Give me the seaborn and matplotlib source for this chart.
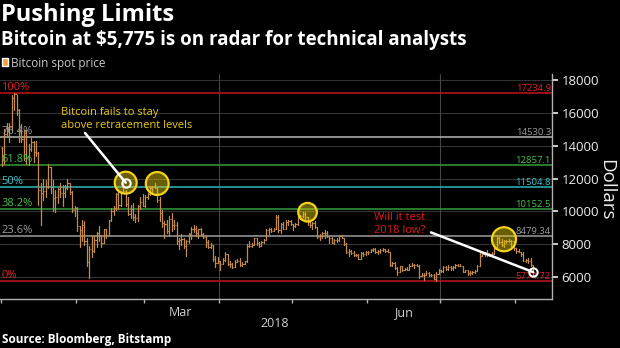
import matplotlib
matplotlib.use("Agg")
import numpy as np
import pandas as pd
import matplotlib.pyplot as plt
import matplotlib.dates as mdates
import matplotlib.transforms as mtransforms
from matplotlib.patches import Patch
import seaborn as sns

# Daily Bitcoin spot price (USD), 1 Jan - 8 Aug 2018
first_open = 13880
high = [
    # Jan
    13900, 15000, 15400, 15400, 17100, 17234.9, 17100, 16250, 15300, 14950, 14950, 14100, 14500, 14300, 14300, 13600,
    11700, 12000, 11900, 12900, 12700, 11900, 11300, 11450, 11700, 11600, 11600, 12000, 11750, 11250, 10350,
    # Feb
    10250, 9100, 9450, 9400, 8350, 7900, 8550, 8500, 8750, 9100, 8550, 8950, 8950, 9500, 10200, 10300, 11100, 11250,
    11250, 11750, 11300, 10900, 10400, 10500, 9850, 10400, 10850, 11050,
    # Mar
    11000, 11150, 11550, 11550, 11700, 11450, 10900, 10100, 9400, 9500, 9700, 9900, 9450, 9350, 8400, 8600, 8350,
    8250, 8700, 9050, 9150, 9100, 8950, 9000, 8700, 8500, 8250, 8100, 7950, 7250, 7200,
    # Apr
    7000, 7150, 7500, 7400, 6950, 6850, 7050, 7100, 7150, 6900, 6970, 8000, 8200, 8100, 8400, 8400, 8150, 8200, 8300,
    8900, 9000, 9000, 9000, 9750, 9750, 9300, 9350, 9450, 9500, 9450,
    # May
    9250, 9270, 9800, 9750, 9950, 9950, 9650, 9450, 9350, 9400, 9050, 8650, 8750, 8850, 8800, 8500, 8450, 8300, 8350,
    8550, 8550, 8400, 8050, 7700, 7650, 7600, 7400, 7400, 7550, 7550, 7600,
    # Jun
    7600, 7700, 7750, 7750, 7650, 7700, 7750, 7700, 7700, 7550, 6900, 6900, 6600, 6700, 6650, 6550, 6600, 6800, 6850,
    6800, 6800, 6750, 6250, 6250, 6350, 6300, 6200, 6200, 6300, 6500,
    # Jul
    6450, 6650, 6650, 6750, 6700, 6650, 6800, 6800, 6800, 6700, 6450, 6400, 6350, 6350, 6400, 6750, 7450, 7550, 7550,
    7650, 7450, 7550, 7800, 8450, 8450, 8300, 8250, 8250, 8300, 8250, 8200,
    # Aug
    7750, 7700, 7550, 7500, 7100, 7150, 7150, 6750,
]
low = [
    # Jan
    12750, 12900, 14600, 14200, 14900, 16200, 15900, 14200, 14200, 13150, 12900, 12800, 13700, 13000, 13400, 10400,
    9200, 10700, 10900, 11400, 11100, 10000, 9950, 10500, 10900, 10350, 10900, 11350, 11050, 9950, 9700,
    # Feb
    8800, 7800, 8200, 7950, 6650, 5950, 7200, 7550, 7800, 8200, 7850, 8100, 8400, 8550, 9400, 9750, 10100, 10150,
    10350, 11100, 10300, 9800, 9600, 9450, 9350, 9400, 10150, 10300,
    # Mar
    10250, 10750, 11000, 11050, 11400, 10600, 9400, 9050, 8350, 8700, 8500, 8800, 8900, 8000, 7700, 7950, 7750, 7300,
    8100, 8300, 8750, 8500, 8350, 8550, 8400, 7850, 7750, 7750, 6950, 6600, 6850,
    # Apr
    6450, 6800, 7000, 6750, 6600, 6550, 6600, 6900, 6650, 6700, 6800, 6900, 7800, 7850, 7950, 7950, 7850, 7900, 8100,
    8250, 8600, 8750, 8800, 8950, 8750, 8700, 8950, 8950, 9150, 9200,
    # May
    8850, 9050, 9200, 9550, 9650, 9500, 9200, 9050, 8950, 9000, 8400, 8250, 8350, 8350, 8450, 8100, 8050, 8000, 8150,
    8200, 8350, 7950, 7450, 7300, 7400, 7300, 7250, 7100, 7100, 7300, 7350,
    # Jun
    7400, 7500, 7600, 7450, 7400, 7450, 7600, 7550, 7500, 6650, 6650, 6500, 6150, 6300, 6350, 6400, 6450, 6400, 6650,
    6550, 6650, 5950, 6050, 5800, 6100, 6050, 6050, 5850, 5780, 6200,
    # Jul
    6300, 6300, 6450, 6450, 6450, 6450, 6550, 6650, 6650, 6300, 6300, 6100, 6150, 6200, 6250, 6350, 6650, 7250, 7300,
    7300, 7250, 7350, 7400, 7700, 8050, 7900, 7850, 8100, 8150, 7900, 7650,
    # Aug
    7450, 7500, 7300, 6950, 6900, 6850, 6700, 6150,
]
close = [
    # Jan
    13412, 14740, 15134, 15155, 16930, 17172, 16180, 14970, 14400, 14900, 13300, 13800, 14200, 13600, 13550, 11300,
    11100, 11250, 11500, 12700, 11500, 10800, 10850, 11350, 11150, 11100, 11400, 11700, 11200, 10100, 10200,
    # Feb
    9100, 8850, 9200, 8200, 6900, 7700, 7600, 8250, 8700, 8550, 8100, 8900, 8550, 9450, 10050, 10200, 11050, 10400,
    11150, 11250, 10450, 9850, 10150, 9650, 9600, 10300, 10600, 10300,
    # Mar
    10900, 11050, 11450, 11500, 11450, 10700, 9900, 9300, 9250, 8800, 9550, 9150, 9150, 8200, 8250, 8300, 7900, 8200,
    8600, 8900, 8900, 8700, 8900, 8600, 8450, 8150, 7800, 7950, 7100, 6850, 6950,
    # Apr
    6800, 7050, 7400, 6800, 6800, 6600, 6900, 7000, 6750, 6800, 6950, 7900, 7900, 7950, 8350, 8050, 7900, 8150, 8250,
    8850, 8900, 8800, 8950, 9650, 8850, 9250, 8950, 9350, 9400, 9250,
    # May
    9100, 9250, 9750, 9700, 9850, 9650, 9350, 9200, 9300, 9050, 8450, 8500, 8700, 8700, 8500, 8350, 8100, 8250, 8250,
    8500, 8400, 8000, 7550, 7600, 7450, 7350, 7350, 7100, 7450, 7400, 7500,
    # Jun
    7550, 7650, 7700, 7500, 7600, 7650, 7700, 7600, 7500, 6750, 6850, 6550, 6300, 6650, 6400, 6500, 6450, 6700, 6750,
    6750, 6700, 6050, 6150, 6150, 6250, 6100, 6150, 5900, 6200, 6400,
    # Jul
    6350, 6600, 6500, 6600, 6550, 6600, 6750, 6700, 6650, 6300, 6400, 6250, 6250, 6300, 6350, 6700, 7300, 7400, 7450,
    7350, 7400, 7400, 7700, 8400, 8150, 7950, 8200, 8200, 8200, 8200, 7750,
    # Aug
    7600, 7550, 7400, 7000, 7050, 6950, 6750, 6300,
]

# Fibonacci retracement levels between the 2018 high and the latest price
fib_pcts = ["100%", "76.4%", "61.8%", "50%", "38.2%", "23.6%", "0%"]
fib_values = [17234.9, 14530.3, 12857.1, 11504.8, 10152.5, 8479.34, 5774.72]
fib_line_colors = ["#b3121c", "#a9a9a9", "#2f8f36", "#2aa7b0", "#2f8f36", "#8f8f8f", "#b3121c"]
fib_text_colors = ["#e0202a", "#9a9a9a", "#45c04a", "#3cc6d2", "#45c04a", "#9a9a9a", "#e0202a"]

y_ticks = [6000, 8000, 10000, 12000, 14000, 16000, 18000]
month_label_dates = ["2018-03-16", "2018-06-16"]
month_labels = ["Mar", "Jun"]
quarter_lines = ["2018-04-01", "2018-07-01"]
highlight_dates = ["2018-02-21", "2018-03-06", "2018-05-07", "2018-07-27"]
highlight_sizes = [250, 270, 180, 300]

BAR = "#c38c4c"
BG = "black"

sns.set_theme(style="dark", rc={
    "axes.facecolor": BG, "figure.facecolor": BG, "savefig.facecolor": BG,
    "axes.edgecolor": "#b0b0b0", "grid.color": "#333333",
})
plt.rcParams["font.family"] = ["Open Sans", "DejaVu Sans"]

dates = pd.date_range("2018-01-01", periods=len(close), freq="D")
x = mdates.date2num(dates) + 0.5
opens = [first_open] + close[:-1]
df = pd.DataFrame({"x": x, "high": high, "low": low, "close": close, "open": opens})

fig = plt.figure(figsize=(6.2, 3.48), dpi=100)
ax = fig.add_axes([0, 49 / 348, 552 / 620, 225 / 348])

# high-low range of every day
long_df = df.melt(id_vars="x", value_vars=["high", "low"], value_name="price")
sns.lineplot(data=long_df, x="x", y="price", units="x", estimator=None, sort=True,
             color=BAR, lw=0.9, legend=False, ax=ax, zorder=3)
# open / close ticks
ax.hlines(df["open"], df["x"] - 0.45, df["x"], color=BAR, lw=0.8, zorder=3)
ax.hlines(df["close"], df["x"], df["x"] + 0.45, color=BAR, lw=0.8, zorder=3)

x0 = mdates.date2num(pd.Timestamp("2018-01-01"))
ax.set_xlim(x0 - 0.33, x0 + 227.3)
ax.set_ylim(4659, 18375)

# grid
ax.set_yticks(y_ticks)
ax.yaxis.grid(True, color="#333333", lw=0.8)
ax.xaxis.grid(False)
for d in quarter_lines:
    ax.axvline(mdates.date2num(pd.Timestamp(d)), color="#454545", lw=0.8, zorder=1)

# retracement levels
blend = mtransforms.blended_transform_factory(ax.transAxes, ax.transData)
for pct, v, lc, tc in zip(fib_pcts, fib_values, fib_line_colors, fib_text_colors):
    ax.axhline(v, color=lc, lw=1.2, zorder=2)
    ax.text(0.002, v, pct, transform=blend, ha="left", va="bottom", color=tc, fontsize=8, zorder=4)
    ax.text(0.998, v, f"{v:.6g}", transform=blend, ha="right", va="bottom", color=tc, fontsize=6.8, zorder=4)

# axes styling
for s in ["left", "top"]:
    ax.spines[s].set_visible(False)
for s in ["right", "bottom"]:
    ax.spines[s].set_color("#b0b0b0")
    ax.spines[s].set_linewidth(1)
ax.yaxis.tick_right()
ax.yaxis.set_label_position("right")
ax.yaxis.set_major_formatter(matplotlib.ticker.FuncFormatter(lambda v, p: f"{v:.0f}"))
ax.tick_params(axis="y", which="major", right=True, left=False, direction="out", length=4, width=1.2,
               colors="#eeeeee", labelsize=9.5, pad=3)
ax.xaxis.set_major_locator(mdates.MonthLocator())
ax.xaxis.set_major_formatter(matplotlib.ticker.NullFormatter())
ax.xaxis.set_minor_locator(matplotlib.ticker.FixedLocator(mdates.date2num(pd.to_datetime(month_label_dates))))
ax.xaxis.set_minor_formatter(matplotlib.ticker.FixedFormatter(month_labels))
ax.tick_params(axis="x", which="major", bottom=True, direction="out", length=3, width=1, color="#b0b0b0")
ax.tick_params(axis="x", which="minor", bottom=True, length=0, labelsize=9, labelcolor="#d0d0d0", pad=5)
ax.set_xlabel("")
ax.set_ylabel("Dollars", rotation=270, color="#eeeeee", fontsize=13.5, va="center", ha="center")
ax.yaxis.set_label_coords(606 / 552, 0.484)

xblend = mtransforms.blended_transform_factory(ax.transData, ax.transAxes)
ax.text(mdates.date2num(pd.Timestamp("2018-04-24")), -0.107, "2018", transform=xblend,
        ha="center", va="center", fontsize=9, color="#d0d0d0")

# highlighted peaks
hx, hy = [], []
for d in highlight_dates:
    t = pd.Timestamp(d)
    win = df[(dates >= t - pd.Timedelta(days=1)) & (dates <= t + pd.Timedelta(days=1))]
    hx.append(mdates.date2num(t) + 0.5)
    hy.append(win["high"].max())
ax.scatter(hx, hy, s=highlight_sizes, facecolor=(0.93, 0.82, 0.05, 0.45), edgecolor="#f2d21a",
           lw=1.6, zorder=5)

# annotations
ax.text(61 / 552, 0.80, "Bitcoin fails to stay\nabove retracement levels", transform=ax.transAxes,
        ha="left", va="center", color="#e8c71a", fontsize=8, linespacing=1.15, zorder=6)
ax.annotate("", xy=(hx[0], hy[0]), xycoords="data", xytext=(85 / 552, 0.738), textcoords="axes fraction",
            arrowprops=dict(arrowstyle="-", color="white", lw=1.8, shrinkA=0, shrinkB=0), zorder=6)
ax.plot(hx[0], hy[0], "o", ms=6, mfc="none", mec="white", mew=1.5, zorder=7)

ax.text(374 / 552, 0.333, "Will it test\n2018 low?", transform=ax.transAxes,
        ha="left", va="center", color="#e4141c", fontsize=8, linespacing=1.15, zorder=6)
last_x, last_y = df["x"].iloc[-1], df["close"].iloc[-1]
ax.annotate("", xy=(last_x, last_y), xycoords="data", xytext=(431 / 552, 0.296), textcoords="axes fraction",
            arrowprops=dict(arrowstyle="-", color="white", lw=1.8, shrinkA=0, shrinkB=0), zorder=6)
ax.plot(last_x, last_y, "o", ms=6, mfc="none", mec="white", mew=1.5, zorder=7)

# titles, legend, source
fig.text(1 / 620, 1 - 15 / 348, "Pushing Limits", color="white", fontsize=17, fontweight="bold", va="center")
fig.text(1 / 620, 1 - 40 / 348, "Bitcoin at $5,775 is on radar for technical analysts", color="white",
         fontsize=13.5, fontweight="bold", va="center")
fig.legend(handles=[Patch(facecolor="#f0a040", label="Bitcoin spot price")], loc="center left",
           bbox_to_anchor=(0.004, 1 - 63 / 348), frameon=False, handlelength=0.5, handleheight=0.65,
           handletextpad=0.25, borderaxespad=0, borderpad=0, fontsize=8.5, labelcolor="#c8c8c8")
fig.text(2 / 620, 1 - 340 / 348, "Source: Bloomberg, Bitstamp", color="white", fontsize=8.5,
         fontweight="bold", va="center")

fig.savefig("out.png", dpi=100, facecolor=BG)
